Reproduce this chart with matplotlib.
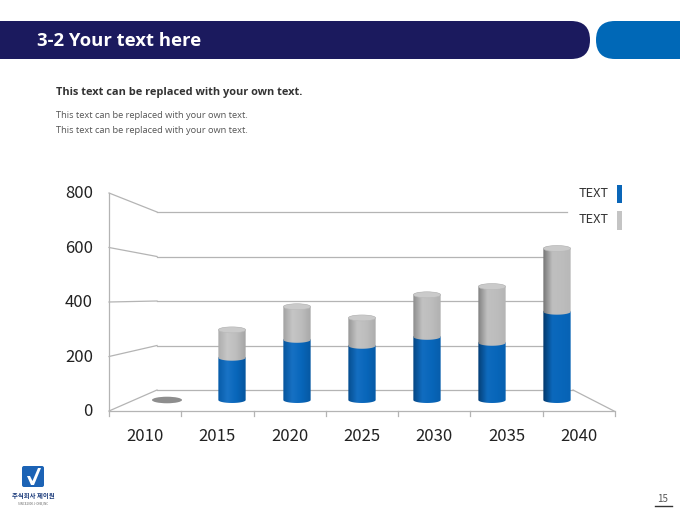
import numpy as np
import matplotlib
matplotlib.use('Agg')
import matplotlib.pyplot as plt
from matplotlib.patches import FancyBboxPatch, Rectangle, Ellipse, Polygon
from matplotlib.colors import LinearSegmentedColormap, to_rgb

plt.rcParams['font.family'] = ['Noto Sans CJK KR', 'DejaVu Sans']
latin = ['Open Sans', 'Noto Sans CJK KR']

# Data
years = ['2010', '2015', '2020', '2025', '2030', '2035', '2040']
series1 = [0, 170, 242, 218, 254, 230, 355]   # blue
series2 = [0, 112, 133, 112, 169, 226, 254]   # gray
y_ticks = [0, 200, 400, 600, 800]
legend_labels = ['TEXT', 'TEXT']

title = '3-2 Your text here'
subtitle = 'This text can be replaced with your own text.'
body_lines = ['This text can be replaced with your own text.',
              'This text can be replaced with your own text.']

W, H = 680, 510
fig = plt.figure(figsize=(6.8, 5.1), dpi=100)

# background axes in pixel coordinates
bg = fig.add_axes([0, 0, 1, 1])
bg.set_xlim(0, W)
bg.set_ylim(H, 0)
bg.axis('off')

# header bars
bg.add_patch(FancyBboxPatch((-40, 22), 630, 38, boxstyle='round,pad=0,rounding_size=19',
                            fc='#1b1a5e', ec='none'))
bg.add_patch(FancyBboxPatch((596, 22), 140, 38, boxstyle='round,pad=0,rounding_size=19',
                            fc='#0068b7', ec='none'))
bg.text(37, 41, title, color='white', fontsize=13.3, fontweight='bold', va='center', ha='left',
        family=latin)

bg.text(56, 93, subtitle, color='#333333', fontsize=7.9, fontweight='bold', va='center',
        family=latin)
for i, line in enumerate(body_lines):
    bg.text(56, 116 + 15 * i, line, color='#555555', fontsize=6.7, va='center', family=latin)

# chart frame (pseudo 3D walls)
x_front, x_back, x_back_end, x_floor_end = 109, 157, 567, 614
def front_y(v):
    return 412 - v * 218 / 800
def back_y(v):
    return 391 - v * 178 / 800

lc = '#b4b4b4'
for v in y_ticks:
    bg.plot([x_front, x_back], [front_y(v), back_y(v)], color=lc, lw=0.9)
    end = x_back_end if v > 0 else 573
    bg.plot([x_back, end], [back_y(v), back_y(v)], color=lc, lw=0.9)
    bg.text(93, front_y(v), str(v), ha='right', va='center', fontsize=12, color='#222222')
bg.plot([573, x_floor_end], [back_y(0), front_y(0)], color=lc, lw=0.9)
bg.plot([x_front, x_floor_end], [front_y(0), front_y(0)], color=lc, lw=0.9)
bg.plot([x_front, x_front], [front_y(0), front_y(800)], color=lc, lw=0.9)
step = (x_floor_end + 1 - x_front) / len(years)
for k in range(len(years) + 1):
    xk = x_front + step * k
    bg.plot([xk, xk], [412, 417], color=lc, lw=0.9)
for k, yr in enumerate(years):
    bg.text(x_front + step * (k + 0.5), 437, yr, ha='center', va='center',
            fontsize=12, color='#222222')

# legend
bg.text(609, 194, legend_labels[0], ha='right', va='center', fontsize=9.2, color='#333333')
bg.text(609, 220, legend_labels[1], ha='right', va='center', fontsize=9.2, color='#333333')
bg.add_patch(Rectangle((617, 186), 5, 18, fc='#0a66b8', ec='none'))
bg.add_patch(Rectangle((617, 212), 5, 19, fc='#c4c4c4', ec='none'))

# logo + page number
bg.add_patch(FancyBboxPatch((22, 467), 22, 21, boxstyle='round,pad=0,rounding_size=2',
                            fc='#1c63b5', ec='none'))
bg.add_patch(Polygon([[27, 477], [31, 486], [34, 486], [41, 469], [38, 469], [32.5, 482], [30, 477]],
                     closed=True, fc='white', ec='none'))
bg.text(33, 496, '주식회사 제이원', ha='center', va='center', fontsize=4.6, color='#1a3a7a',
        fontweight='bold')
bg.text(33, 503, 'SINCE2000 J-ONE,INC', ha='center', va='center', fontsize=2.2, color='#666666')
bg.text(663, 499, '15', ha='center', va='center', fontsize=7, color='#555555')
bg.plot([655, 672], [507, 507], color='#333333', lw=1)

# bar plane axes: category index vs value
scale = 199 / 800   # px per value unit
v_min = -40
px_left, px_right, px_top = 134.5, 589.5, 202
px_bottom = 401 - v_min * scale
ax = fig.add_axes([px_left / W, (H - px_bottom) / H, (px_right - px_left) / W,
                   (px_bottom - px_top) / H])
ax.patch.set_alpha(0)
ax.axis('off')

half_w = 0.21
eh = 12  # half ellipse height in value units

def mix(c1, c2, t):
    a, b = np.array(to_rgb(c1)), np.array(to_rgb(c2))
    return tuple(a * (1 - t) + b * t)

def cylinder(xc, y0, y1, base, dark, light, shade):
    th_low = np.linspace(np.pi, 2 * np.pi, 40)
    th_up = np.linspace(0, np.pi, 40)
    pts = [(xc + half_w * np.cos(t), y0 + eh * np.sin(t)) for t in th_low]
    pts += [(xc + half_w * np.cos(t), y1 + eh * np.sin(t)) for t in th_up]
    poly = Polygon(pts, closed=True, fc='none', ec='none')
    ax.add_patch(poly)
    left = mix(base, dark, 0.05 + 0.7 * shade)
    right = mix(base, dark, 0.3 - 0.25 * shade)
    cmap = LinearSegmentedColormap.from_list(
        'c', [left, mix(base, light, 0.6 - 0.5 * shade), base, right])
    grad = np.linspace(0, 1, 64).reshape(1, -1)
    im = ax.imshow(grad, cmap=cmap, aspect='auto', interpolation='bicubic',
                   extent=[xc - half_w, xc + half_w, y0 - eh, y1 + eh], zorder=2)
    im.set_clip_path(poly)

for i, (b, g) in enumerate(zip(series1, series2)):
    shade = i / (len(years) - 1)
    if b + g == 0:
        ax.add_patch(Ellipse((i, 0), 2 * half_w * 1.1, 2 * eh * 1.1, fc='#8e8e8e', ec='none'))
        continue
    cylinder(i, 0, b, '#0866ba', '#01284f', '#2a7fd0', shade)
    cylinder(i, b, b + g, '#bdbdbd', '#5e5e5e', '#d0d0d0', shade)
    ax.add_patch(Ellipse((i, b + g), 2 * half_w, 2 * eh, fc='#cacaca', ec='#b8b8b8',
                         lw=0.4, zorder=3))

ax.set_xlim(-0.5, 6.5)
ax.set_ylim(v_min, 800)

fig.savefig('out.png', dpi=100)
